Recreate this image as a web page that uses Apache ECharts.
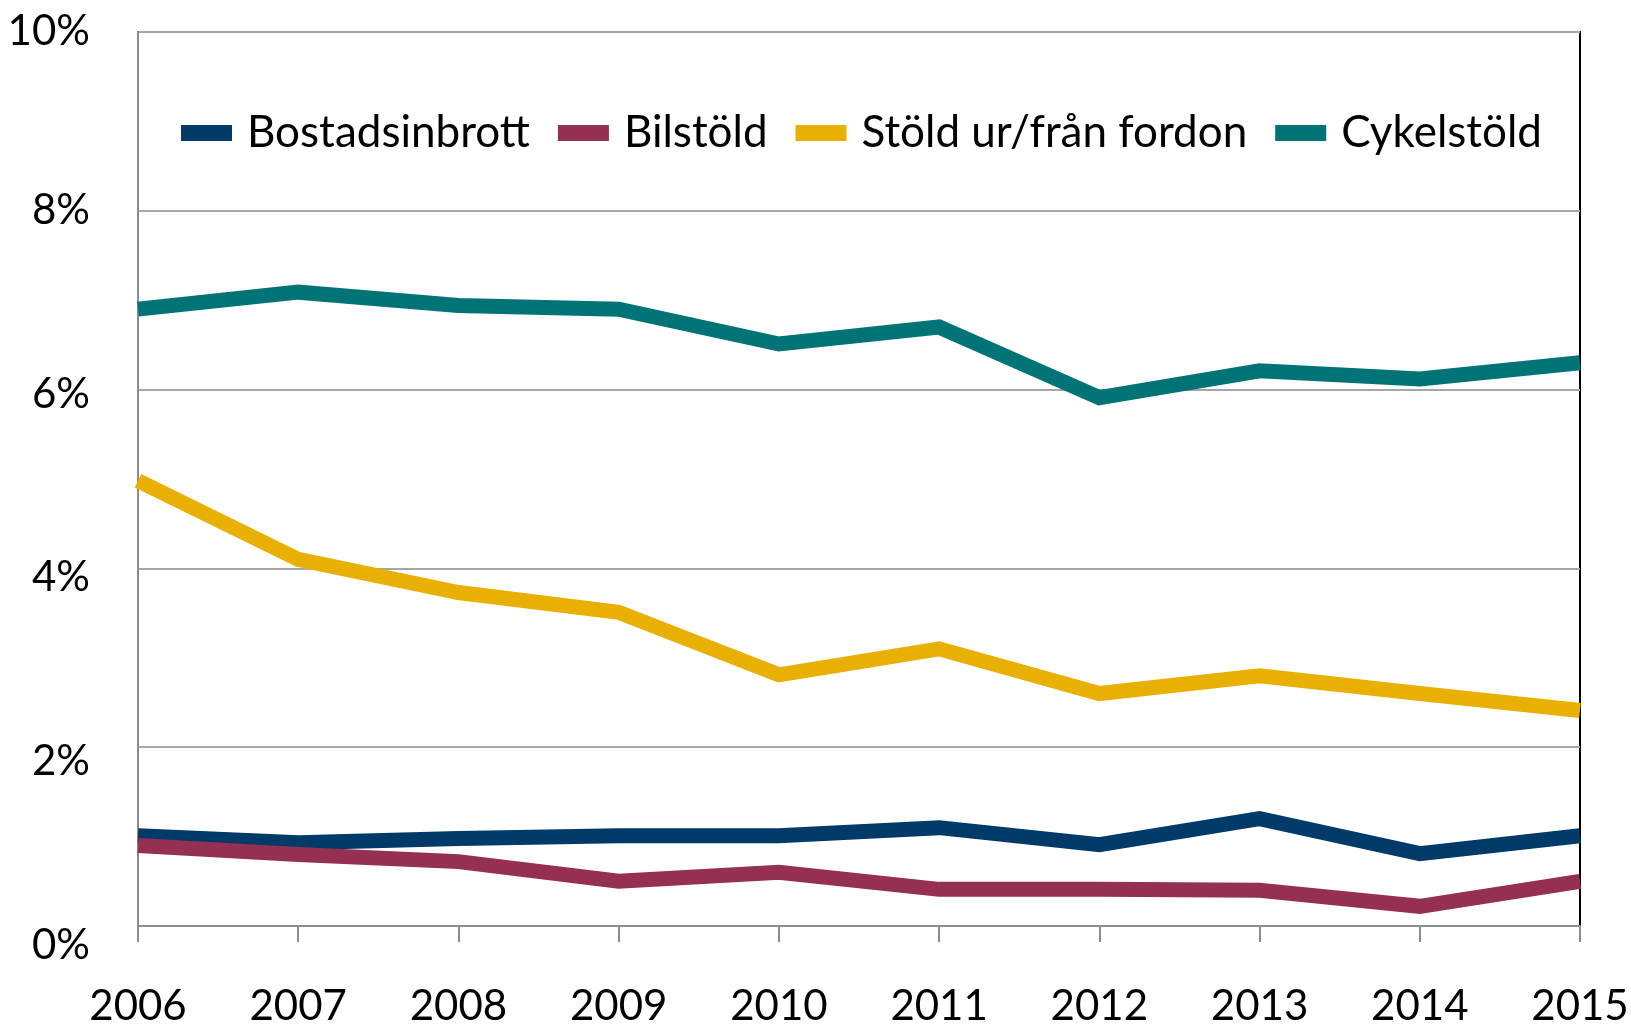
<!DOCTYPE html>
<html>
<head>
<meta charset="utf-8">
<script src="https://cdn.jsdelivr.net/npm/echarts@6/dist/echarts.min.js"></script>
<style>
  html, body { margin: 0; padding: 0; background: #fff; }
  #chart { width: 1631px; height: 1024px; }
</style>
</head>
<body>
<div id="chart"></div>
<script>
const years = ["2006", "2007", "2008", "2009", "2010", "2011", "2012", "2013", "2014", "2015"];
const bostadsinbrott = [1.01, 0.93, 0.98, 1.01, 1.01, 1.1, 0.91, 1.2, 0.81, 1.01];
const bilstold = [0.9, 0.8, 0.72, 0.5, 0.6, 0.41, 0.41, 0.4, 0.22, 0.5];
const stoldFordon = [4.98, 4.1, 3.73, 3.51, 2.81, 3.1, 2.6, 2.8, 2.6, 2.41];
const cykelstold = [6.9, 7.09, 6.94, 6.9, 6.51, 6.7, 5.91, 6.21, 6.12, 6.3];

const FONT = "Lato, 'Open Sans', sans-serif";
const AXIS_GRAY = "#8c8c8c";

// the original's y labels drift slightly below their gridlines towards the bottom
const labelShift = { 0: 19, 2: 14, 4: 9, 6: 5, 8: 0, 10: -1 };
const yRich = {};
Object.keys(labelShift).forEach((k) => {
  const s = labelShift[k];
  yRich["v" + k] = {
    fontSize: 42,
    fontFamily: FONT,
    color: "#000",
    padding: s >= 0 ? [2 * s, 0, 0, 0] : [0, 0, -2 * s, 0]
  };
});

const chart = echarts.init(document.getElementById("chart"));

function lineSeries(name, data, color) {
  return {
    name,
    type: "line",
    data,
    symbol: "none",
    lineStyle: { width: 15, color, join: "miter" },
    itemStyle: { color },
    z: 3
  };
}

chart.setOption({
  backgroundColor: "#fff",
  animation: false,
  textStyle: { fontFamily: FONT },
  grid: {
    left: 138, right: 51, top: 32, bottom: 98,
    outerBoundsMode: "none",
    containLabel: false,
    show: true, borderColor: "#000", borderWidth: 2
  },
  legend: {
    top: 106,
    left: 176,
    icon: "rect",
    itemWidth: 51,
    itemHeight: 16,
    itemGap: 28,
    textStyle: { fontSize: 44, color: "#000", fontFamily: FONT, padding: [0, 0, 0, 10] },
    data: ["Bostadsinbrott", "Bilstöld", "Stöld ur/från fordon", "Cykelstöld"]
  },
  xAxis: {
    type: "category",
    data: years,
    boundaryGap: false,
    axisLine: { lineStyle: { color: AXIS_GRAY, width: 2 } },
    axisTick: { show: true, length: 16, lineStyle: { color: AXIS_GRAY, width: 2 } },
    axisLabel: { fontSize: 42, color: "#000", margin: 59, fontFamily: FONT },
    z: 4
  },
  yAxis: {
    type: "value",
    min: 0,
    max: 10,
    interval: 2,
    axisLine: { show: true, lineStyle: { color: AXIS_GRAY, width: 2 } },
    axisTick: { show: false },
    axisLabel: {
      fontSize: 42,
      color: "#000",
      margin: 48,
      fontFamily: FONT,
      formatter: (v) => `{v${v}|${v}%}`,
      rich: yRich
    },
    splitLine: { lineStyle: { color: "#a6a6a6", width: 2 } }
  },
  series: [
    lineSeries("Bostadsinbrott", bostadsinbrott, "#003a69"),
    lineSeries("Bilstöld", bilstold, "#953052"),
    lineSeries("Stöld ur/från fordon", stoldFordon, "#e8b000"),
    lineSeries("Cykelstöld", cykelstold, "#007377")
  ]
});
</script>
</body>
</html>
